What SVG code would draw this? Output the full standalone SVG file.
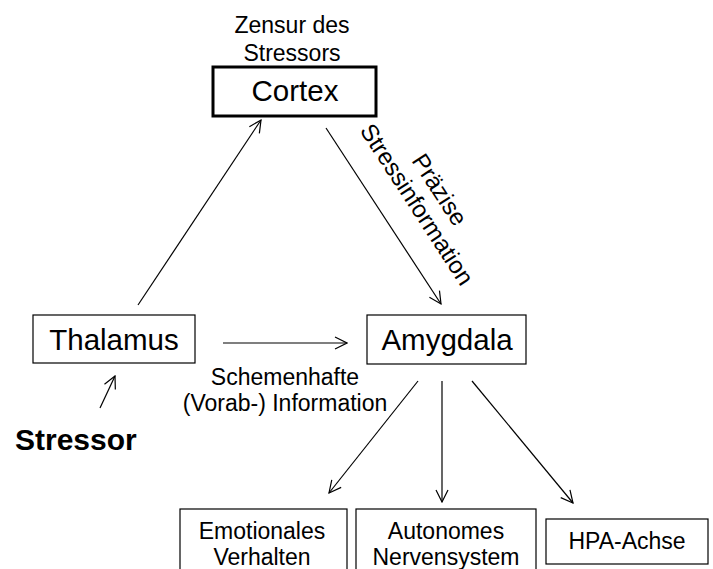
<svg xmlns="http://www.w3.org/2000/svg" width="713" height="569" viewBox="0 0 713 569">
  <style>
    .box { fill: #ffffff; stroke: #000000; stroke-width: 1.2; }
    .box-bold { fill: #ffffff; stroke: #000000; stroke-width: 3; }
    .title { font-family: "Liberation Sans", Arial, sans-serif; font-size: 29.5px; fill: #000000; text-anchor: middle; }
    .label { font-family: "Liberation Sans", Arial, sans-serif; font-size: 23px; fill: #000000; text-anchor: middle; }
    .slanted { font-size: 24px; }
    .bold { font-family: "Liberation Sans", Arial, sans-serif; font-size: 30px; font-weight: bold; fill: #000000; }
    .edge { stroke: #000000; stroke-width: 1.2; fill: none; marker-end: url(#arrow); }
  </style>
  <defs>
    <marker id="arrow" markerUnits="userSpaceOnUse" markerWidth="14" markerHeight="14" viewBox="0 0 14 14" refX="13" refY="7" orient="auto">
      <path d="M1,1 L13,7 L1,13" fill="none" stroke="#000000" stroke-width="1.2"/>
    </marker>
  </defs>
  <rect width="713" height="569" fill="#ffffff"/>

  <!-- connectors -->
  <g id="connectors">
    <line class="edge" x1="138" y1="305" x2="261" y2="120"/>
    <line class="edge" x1="326" y1="128" x2="441" y2="304"/>
    <line class="edge" x1="223" y1="343" x2="347" y2="343"/>
    <line class="edge" x1="100" y1="408" x2="115" y2="376"/>
    <line class="edge" x1="418" y1="381" x2="329" y2="493"/>
    <line class="edge" x1="442" y1="381" x2="442" y2="502"/>
    <line class="edge" x1="472" y1="381" x2="573" y2="503"/>
  </g>

  <!-- edge labels -->
  <g id="labels">
    <text class="label" x="292" y="33">Zensur des</text>
    <text class="label" x="292" y="61">Stressors</text>
    <g transform="translate(416,205) rotate(57)">
      <text class="label slanted" x="0" y="-20">Präzise</text>
      <text class="label slanted" x="0" y="7">Stressinformation</text>
    </g>
    <text class="label" x="285" y="385">Schemenhafte</text>
    <text class="label" x="285" y="411">(Vorab-) Information</text>
  </g>

  <g id="cortex">
    <rect class="box-bold" x="213" y="67" width="163" height="49"/>
    <text class="title" x="295" y="101">Cortex</text>
  </g>

  <g id="thalamus">
    <rect class="box" x="33" y="315" width="162" height="48"/>
    <text class="title" x="114" y="350">Thalamus</text>
  </g>

  <g id="amygdala">
    <rect class="box" x="367" y="315" width="159" height="49"/>
    <text class="title" x="447" y="350">Amygdala</text>
  </g>

  <g id="stressor">
    <text class="bold" x="15" y="450">Stressor</text>
  </g>

  <g id="emotionales-verhalten">
    <rect class="box" x="180" y="509" width="167" height="70"/>
    <text class="label" x="262" y="539">Emotionales</text>
    <text class="label" x="262" y="565">Verhalten</text>
  </g>

  <g id="autonomes-nervensystem">
    <rect class="box" x="356" y="509" width="180" height="70"/>
    <text class="label" x="446" y="539">Autonomes</text>
    <text class="label" x="446" y="565">Nervensystem</text>
  </g>

  <g id="hpa-achse">
    <rect class="box" x="546" y="519" width="162" height="45"/>
    <text class="label" x="627" y="549">HPA-Achse</text>
  </g>
</svg>
